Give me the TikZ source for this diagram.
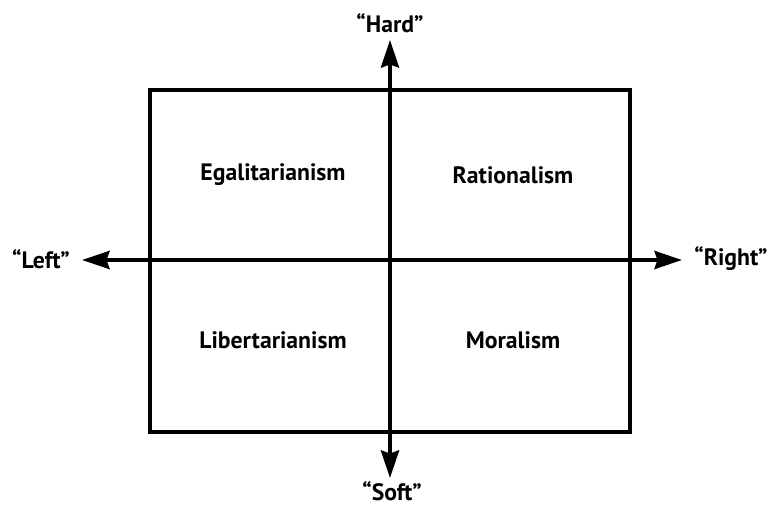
\documentclass[tikz,border=0pt]{standalone}
\usepackage{fontspec}
\setmainfont{PT Sans}
\usepackage{tikz}
\usetikzlibrary{arrows.meta, positioning}

\begin{document}
\begin{tikzpicture}[
    quad/.style={font=\bfseries\fontsize{13.5}{16}\selectfont},
    axislabel/.style={font=\bfseries\fontsize{13.5}{16}\selectfont},
    axis/.style={{Stealth[length=5.5mm,width=3.6mm,inset=0.6mm]}-{Stealth[length=5.5mm,width=3.6mm,inset=0.6mm]}, line width=2.3pt}
  ]
    \useasboundingbox (0,0) rectangle (15.38,10.12);

    \draw[line width=2.3pt] (3.0,1.48) rectangle (12.6,8.32);

    \coordinate (top) at (7.80,9.32);
    \coordinate (bottom) at (7.80,0.56);
    \coordinate (leftend) at (1.64,4.92);
    \coordinate (rightend) at (13.64,4.92);

    \draw[axis] (bottom) -- (top);
    \draw[axis] (leftend) -- (rightend);

    \node[axislabel] (hard) at (7.80,9.66) {``Hard''};
    \node[axislabel] (soft) at (7.84,0.30) {``Soft''};
    \node[axislabel] (left) at (0.82,4.94) {``Left''};
    \node[axislabel] (right) at (14.62,4.94) {``Right''};

    \node[quad] (egal) at (5.46,6.62) {Egalitarianism};
    \node[quad] (rat) at (10.26,6.62) {Rationalism};
    \node[quad] (lib) at (5.46,3.32) {Libertarianism};
    \node[quad] (mor) at (10.26,3.32) {Moralism};

  \end{tikzpicture}
\end{document}
